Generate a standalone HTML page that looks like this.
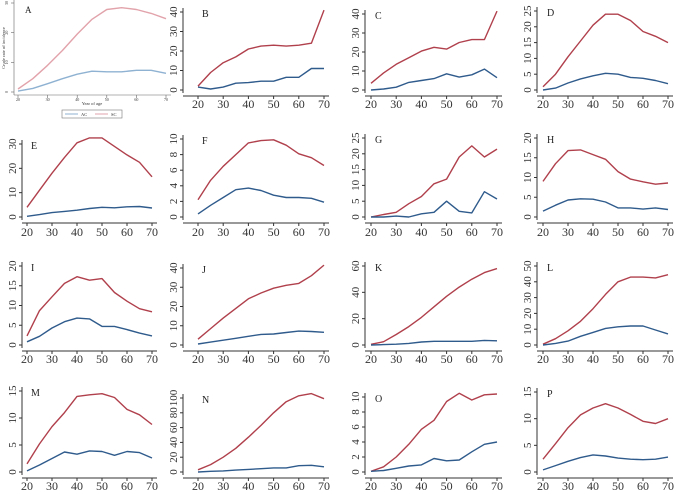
<!DOCTYPE html>
<html><head><meta charset="utf-8"><style>
html,body{margin:0;padding:0;background:#fff;}
svg{display:block;font-family:"Liberation Serif",serif;}
</style></head><body>
<svg id="chart" width="676" height="494" viewBox="0 0 676 494"></svg>
<script>
const ages=[20,25,30,35,40,45,50,55,60,65,70];
const xTicks=[20,30,40,50,60,70];
const panelLetters=["A","B","C","D","E","F","G","H","I","J","K","L","M","N","O","P"];
const scA=[1,4.5,9,14,19.5,24.5,27.8,28.4,27.8,26.5,24.7];
const acA=[0.3,1.2,2.8,4.5,6,7,6.8,6.8,7.3,7.3,6.3];
const scB=[2,9,14,17,21,22.5,23,22.5,23,24,41];
const acB=[1.5,0.5,1.5,3.5,3.8,4.5,4.5,6.5,6.5,11,11];
const scC=[3.5,9,13.5,17,20.5,22.5,21.5,25,26.5,26.5,41.5];
const acC=[0,0.5,1.5,4,5,6,8.5,6.8,8,11,6.5];
const scD=[1,5,10.5,15.5,20.5,24,24,22,18.5,17,15];
const acD=[0,0.6,2.2,3.5,4.5,5.3,5,4,3.7,3,2];
const scE=[4,11,18,24.5,30.5,32.5,32.5,29,25.5,22.5,16.5];
const acE=[0.3,1,1.8,2.3,2.8,3.5,4,3.8,4.2,4.3,3.7];
const scF=[2.2,4.7,6.5,8,9.5,9.8,9.9,9.2,8.1,7.6,6.6];
const acF=[0.4,1.5,2.5,3.5,3.7,3.4,2.8,2.5,2.5,2.4,1.9];
const scG=[0,0.8,1.5,4.2,6.5,10.5,12,19,22.5,19,21.5];
const acG=[0,0,0.3,0,1,1.5,5,1.8,1.3,8,5.7];
const scH=[9,13.5,16.8,17,15.8,14.6,11.5,9.6,8.9,8.3,8.6];
const acH=[1.5,3,4.3,4.6,4.5,3.8,2.3,2.3,2,2.3,1.9];
const scI=[2.3,8.7,12.2,15.6,17.3,16.4,16.8,13.3,11.1,9.2,8.4];
const acI=[0.8,2.2,4.3,5.9,6.8,6.6,4.7,4.7,3.9,3,2.3];
const scJ=[3,8.5,14,19,24,27,29.5,31,32,36,41.5];
const acJ=[0.5,1.5,2.5,3.5,4.5,5.5,5.7,6.5,7.2,7,6.6];
const scK=[0.5,2.5,8,14,21,29,37,44,50,55,58];
const acK=[0,0.3,0.6,1.2,2.3,2.8,2.8,2.8,2.8,3.5,3.2];
const scL=[0.5,4,9,15,23,32,40,43,43,42.5,44.5];
const acL=[0,1,2.5,5.5,8,10.5,11.5,12,12,9.5,7];
const scM=[1.5,5.2,8.4,11,14,14.3,14.5,13.8,11.6,10.6,8.8];
const acM=[0.2,1.3,2.5,3.7,3.3,3.9,3.8,3.1,3.8,3.6,2.6];
const scN=[3,10,20,32,47,63,80,95,103,106,99];
const acN=[0,1,1.5,2.5,3.5,4.5,5.5,5.5,8.5,9,7];
const scO=[0.1,0.7,2,3.7,5.7,6.9,9.4,10.5,9.6,10.3,10.4];
const acO=[0.1,0.2,0.5,0.8,0.95,1.8,1.5,1.6,2.7,3.7,4];
const scP=[2.4,5.3,8.3,10.7,12,12.8,12,10.8,9.5,9.1,10];
const acP=[0.4,1.2,2,2.7,3.2,3,2.6,2.4,2.3,2.4,2.8];
const scSeries=[scA,scB,scC,scD,scE,scF,scG,scH,scI,scJ,scK,scL,scM,scN,scO,scP];
const acSeries=[acA,acB,acC,acD,acE,acF,acG,acH,acI,acJ,acK,acL,acM,acN,acO,acP];
const yTickMax=[30,40,40,25,30,10,25,20,20,40,60,50,15,100,10,15];
const yTickStep=[10,10,10,5,10,2,5,5,5,10,20,10,5,20,2,5];

// layout (pixels)
const colX20=[27,198,371,543], colX70=[152,324,497,668], colAxis=[22,183,365,537];
const rowZero=[90,217,345,472], rowXAxis=[96,223,351,478], rowLabel=[108,236,363,490];
const topPix=[3,12,14,11,144,139,138,138,266,268,266,266,391,398,397,392];

const NS="http://www.w3.org/2000/svg";
const svg=document.getElementById("chart");
function mk(tag,attrs,parent){const e=document.createElementNS(NS,tag);for(const k in attrs)e.setAttribute(k,attrs[k]);(parent||svg).appendChild(e);return e;}

for(let p=0;p<16;p++){
  const r=Math.floor(p/4), c=p%4, isA=p===0;
  const g=mk("g",{});
  
  
  const x20=isA?18:colX20[c], x70=isA?166:colX70[c], axX=isA?14:colAxis[c];
  const y0=isA?92:rowZero[r], yTop=topPix[p], xAxY=isA?95:rowXAxis[r];
  const ymax=yTickMax[p];
  const sx=v=>x20+(v-20)/50*(x70-x20);
  const sy=v=>y0-(v/ymax)*(y0-yTop);
  const col=isA?"#666":"#333";
  // y axis
  const ya=mk("line",{x1:axX,x2:axX,y1:yTop-4,y2:y0+3,stroke:col,"stroke-width":isA?0.6:1},g);
  
  
  for(let v=0;v<=ymax+1e-9;v+=yTickStep[p]){
    const y=sy(v);
    mk("line",{x1:axX-3,x2:axX,y1:y,y2:y,stroke:col,"stroke-width":isA?0.6:1},g);
    const t=mk("text",{x:axX-6,y:y,"font-size":isA?4:11,fill:"#333","text-anchor":"middle",transform:`rotate(-90 ${axX-6} ${y})`},g);
    t.textContent=v;
    
    
  }
  // x axis
  const xa=mk("line",{x1:axX,x2:x70+5,y1:xAxY,y2:xAxY,stroke:col,"stroke-width":isA?0.6:1},g);
  
  
  xTicks.forEach(v=>{
    const x=sx(v);
    mk("line",{x1:x,x2:x,y1:xAxY,y2:xAxY+3,stroke:col,"stroke-width":isA?0.6:1},g);
    const t=mk("text",{x:x,y:isA?xAxY+6:rowLabel[r],"font-size":isA?4:12,fill:"#333","text-anchor":"middle"},g);
    t.textContent=v;
    
    
  });
  // series
  const mkPath=(arr,color,name)=>{
    const d=arr.map((v,i)=>(i?"L":"M")+sx(ages[i]).toFixed(1)+","+sy(v).toFixed(1)).join("");
    const pth=mk("path",{d:d,fill:"none",stroke:color,"stroke-width":1.4,"stroke-linejoin":"round"},g);
    
    
  };
  mkPath(scSeries[p],isA?"#e2a3ab":"#b0404c","sc-line");
  mkPath(acSeries[p],isA?"#8fb2d2":"#2f5b8c","ac-line");
  const lt=mk("text",{x:isA?25:x20+4,y:yTop+(isA?10:5),"font-size":isA?9:10,fill:"#222"},g);
  lt.textContent=panelLetters[p];
  
  
}
// panel A axis titles and legend
const yt=mk("text",{x:5,y:48,"font-size":4.5,fill:"#333","text-anchor":"middle",transform:"rotate(-90 5 48)"});
yt.textContent="Crude rate of incidence";


const xt=mk("text",{x:92,y:105,"font-size":4.5,fill:"#333","text-anchor":"middle"});
xt.textContent="Year of age";


const lg=mk("g",{});


mk("rect",{x:62,y:110,width:60,height:8,fill:"#fff",stroke:"#777","stroke-width":0.6},lg);
mk("line",{x1:65,x2:78,y1:114,y2:114,stroke:"#8fb2d2","stroke-width":1},lg);
const l1=mk("text",{x:81,y:116,"font-size":4.5,fill:"#333"},lg);l1.textContent="AC";


mk("line",{x1:95,x2:108,y1:114,y2:114,stroke:"#e2a3ab","stroke-width":1},lg);
const l2=mk("text",{x:111,y:116,"font-size":4.5,fill:"#333"},lg);l2.textContent="SC";


</script>
</body></html>
